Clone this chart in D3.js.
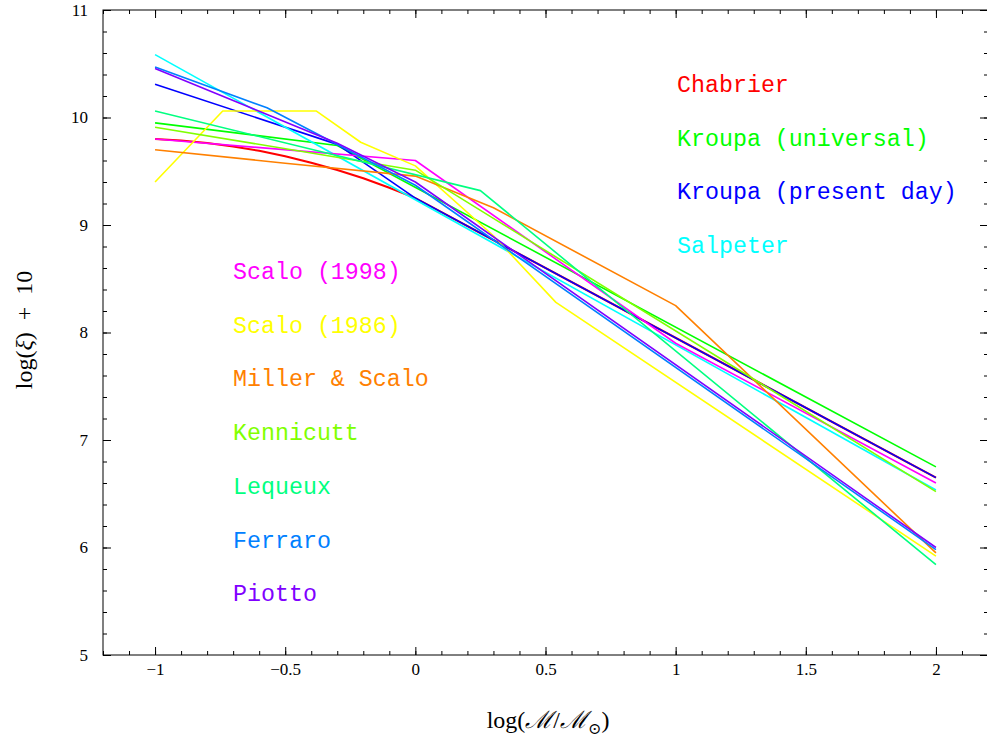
<!DOCTYPE html>
<html>
<head>
<meta charset="utf-8">
<script src="https://cdn.jsdelivr.net/npm/d3@7"></script>
<style>
body { margin: 0; background: #fff; }
svg { display: block; }
.tick text { font-family: "Liberation Serif", "DejaVu Serif", serif; font-size: 17px; fill: #000; }
.tick line { stroke: #000; }
</style>
</head>
<body>
<script>
var width = 987, height = 742;

// IMF curves, log(M/Msun) vs log(xi)+10
var names = ["Chabrier", "Kroupa (universal)", "Kroupa (present day)", "Salpeter",
             "Scalo (1998)", "Scalo (1986)", "Miller & Scalo", "Kennicutt",
             "Lequeux", "Ferraro", "Piotto"];
var colors = ["#ff0000", "#00ff00", "#0000ff", "#00ffff", "#ff00ff", "#ffff00",
              "#ff8000", "#80ff00", "#00ff80", "#0080ff", "#8000ff"];

var chabrierM  = [-1, -0.9, -0.8, -0.7, -0.6, -0.5, -0.4, -0.3, -0.2, -0.1, 0, 2];
var chabrierXi = [9.80, 9.786, 9.763, 9.731, 9.69, 9.64, 9.58, 9.512, 9.434, 9.347, 9.25, 6.65];
var kroupaUM   = [-1, -0.3, 2];
var kroupaUXi  = [9.95, 9.74, 6.75];
var kroupaPM   = [-1, -0.3, 0, 2];
var kroupaPXi  = [10.31, 9.75, 9.25, 6.65];
var salpM      = [-1, 2];
var salpXi     = [10.585, 6.535];
var scalo98M   = [-1, 0, 1, 2];
var scalo98Xi  = [9.80, 9.60, 7.90, 6.60];
var scalo86M   = [-1, -0.74, -0.38, -0.21, 0, 0.3, 0.54, 2];
var scalo86Xi  = [9.40, 10.06, 10.06, 9.77, 9.55, 8.90, 8.28, 5.92];
var millerM    = [-1, -0.5, 0, 0.3, 1, 2];
var millerXi   = [9.70, 9.575, 9.455, 9.16, 8.25, 5.95];
var kennM      = [-1, 0, 2];
var kennXi     = [9.91, 9.51, 6.52];
var lequeuxM   = [-1, 0.25, 2];
var lequeuxXi  = [10.06, 9.32, 5.84];
var ferraroM   = [-1, -0.57, 0, 2];
var ferraroXi  = [10.47, 10.09, 9.37, 5.98];
var piottoM    = [-1, -0.3, 0, 2];
var piottoXi   = [10.455, 9.76, 9.40, 6.00];

var xTicks = [-1, -0.5, 0, 0.5, 1, 1.5, 2];
var yTicks = [5, 6, 7, 8, 9, 10, 11];

var masses = [chabrierM, kroupaUM, kroupaPM, salpM, scalo98M, scalo86M, millerM, kennM, lequeuxM, ferraroM, piottoM];
var xis    = [chabrierXi, kroupaUXi, kroupaPXi, salpXi, scalo98Xi, scalo86Xi, millerXi, kennXi, lequeuxXi, ferraroXi, piottoXi];

var series = names.map(function(n, i){
  return {name: n, color: colors[i],
          pts: masses[i].map(function(m, j){ return [m, xis[i][j]]; })};
});

var x = d3.scaleLinear().domain([-1.2, 2.2]).range([103, 988]);
var y = d3.scaleLinear().domain([5, 11]).range([655, 10]);

var svg = d3.select("body").append("svg")
            .attr("width", width)
            .attr("height", height);

var xMinor = d3.range(-12, 23).map(function(i){ return i / 10; });
var yMinor = d3.range(25, 56).map(function(i){ return i / 5; });
var fmt = d3.format("");

function noDomain(g){ g.select(".domain").remove(); }

// minor ticks, all four sides
svg.append("g").attr("transform", "translate(0,655)")
   .call(d3.axisBottom(x).tickValues(xMinor).tickSize(-4).tickFormat("")).call(noDomain);
svg.append("g").attr("transform", "translate(0,10)")
   .call(d3.axisTop(x).tickValues(xMinor).tickSize(-4).tickFormat("")).call(noDomain);
svg.append("g").attr("transform", "translate(103,0)")
   .call(d3.axisLeft(y).tickValues(yMinor).tickSize(-4).tickFormat("")).call(noDomain);
svg.append("g").attr("transform", "translate(988,0)")
   .call(d3.axisRight(y).tickValues(yMinor).tickSize(-4).tickFormat("")).call(noDomain);

// major ticks
svg.append("g").attr("transform", "translate(0,655)")
   .call(d3.axisBottom(x).tickValues(xTicks).tickSize(-8).tickPadding(8).tickFormat(fmt)).call(noDomain);
svg.append("g").attr("transform", "translate(0,10)")
   .call(d3.axisTop(x).tickValues(xTicks).tickSize(-8).tickFormat("")).call(noDomain);
svg.append("g").attr("transform", "translate(103,0)")
   .call(d3.axisLeft(y).tickValues(yTicks).tickSize(-8).tickPadding(15).tickFormat(fmt)).call(noDomain);
svg.append("g").attr("transform", "translate(988,0)")
   .call(d3.axisRight(y).tickValues(yTicks).tickSize(-8).tickFormat("")).call(noDomain);

svg.append("rect")
   .attr("x", 103).attr("y", 10)
   .attr("width", 988 - 103).attr("height", 655 - 10)
   .attr("fill", "none").attr("stroke", "#000").attr("stroke-width", 1);

var line = d3.line()
             .x(function(d){ return x(d[0]); })
             .y(function(d){ return y(d[1]); });

// Chabrier a bit heavier; Kroupa (present day) lies over it above 1 Msun
svg.selectAll("path.imf")
   .data(series)
   .enter().append("path")
   .attr("class", "imf")
   .attr("d", function(d){ return line(d.pts); })
   .attr("fill", "none")
   .attr("stroke", function(d){ return d.color; })
   .attr("stroke-width", function(d, i){ return i === 0 ? 2.1 : 1.6; })
   .attr("stroke-linejoin", "round");

// legend: first four on the right, the rest on the left
svg.selectAll("text.leg")
   .data(series)
   .enter().append("text")
   .attr("class", "leg")
   .attr("x", function(d, i){ return i < 4 ? 677 : 233; })
   .attr("y", function(d, i){ return i < 4 ? 92 + i * 53.6 : 279 + (i - 4) * 53.7; })
   .attr("fill", function(d){ return d.color; })
   .style("font-family", "'Liberation Mono', 'Courier New', monospace")
   .style("font-size", "23.3px")
   .text(function(d){ return d.name; });

// axis titles
var xt = svg.append("text")
   .attr("x", 548).attr("y", 728)
   .attr("text-anchor", "middle")
   .style("font-family", "'Liberation Serif', 'DejaVu Serif', serif")
   .style("font-size", "24px");
xt.append("tspan").text("log(");
xt.append("tspan").style("font-style", "italic").text("\u2133");
xt.append("tspan").text("/");
xt.append("tspan").style("font-style", "italic").text("\u2133");
xt.append("tspan").attr("dy", 6).style("font-size", "16px").text("\u2299");
xt.append("tspan").attr("dy", -6).text(")");

var yt = svg.append("text")
   .attr("transform", "translate(32,330) rotate(-90)")
   .attr("text-anchor", "middle")
   .style("font-family", "'Liberation Serif', 'DejaVu Serif', serif")
   .style("font-size", "24px")
   .style("white-space", "pre");
yt.append("tspan").text("log(");
yt.append("tspan").style("font-style", "italic").text("\u03be");
yt.append("tspan").text(")  +  10");
</script>
</body>
</html>
